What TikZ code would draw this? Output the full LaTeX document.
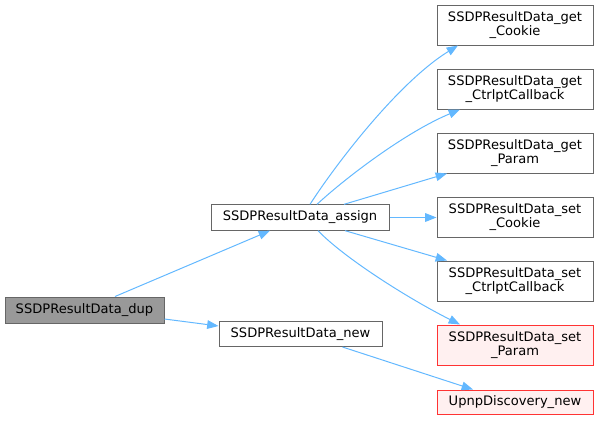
\documentclass[tikz,border=0pt]{standalone}
\usepackage{fontspec}
\setmainfont{DejaVu Sans}
\usetikzlibrary{arrows.meta,calc}
\definecolor{edgeblue}{HTML}{63B8FF}
\definecolor{boxgray}{HTML}{666666}
\definecolor{curfill}{HTML}{999999}
\definecolor{redfill}{HTML}{FFF0F0}
\definecolor{redline}{HTML}{FF3333}
\begin{document}
\begin{tikzpicture}[x=0.75pt,y=-0.75pt,
  fn/.style={draw=boxgray,line width=0.75pt,fill=white,inner sep=0pt,align=center,
    font=\fontsize{9.8}{10.5}\selectfont},
  cur/.style={fn,fill=curfill},
  redbox/.style={fn,draw=redline,fill=redfill},
  col/.style={minimum width=117pt,minimum height=30pt},
  call/.style={draw=edgeblue,line width=0.75pt,-{Triangle[length=8.5pt,width=6.5pt]}}]
\useasboundingbox (0,0) rectangle (599,421);
\node[cur,minimum width=119.25pt,minimum height=19.5pt] (dup) at (84.5,310) {SSDPResultData\_dup};
\node[fn,minimum width=133.5pt,minimum height=19pt] (assign) at (300,217.5) {SSDPResultData\_assign};
\node[fn,minimum width=122.25pt,minimum height=18.75pt] (new) at (300.5,334) {SSDPResultData\_new};
\node[fn,col] (getCookie) at (515,25) {SSDPResultData\_get\\\_Cookie};
\node[fn,col] (getCtrl) at (515,89) {SSDPResultData\_get\\\_CtrlptCallback};
\node[fn,col] (getParam) at (515,153) {SSDPResultData\_get\\\_Param};
\node[fn,col] (setCookie) at (515,217.5) {SSDPResultData\_set\\\_Cookie};
\node[fn,col] (setCtrl) at (515,281) {SSDPResultData\_set\\\_CtrlptCallback};
\node[redbox,col] (setParam) at (515,345) {SSDPResultData\_set\\\_Param};
\node[redbox,minimum width=117pt,minimum height=18pt] (upnp) at (515,402) {UpnpDiscovery\_new};
% edges
\draw[call] ($(dup.north)+(30.5,0)$) -- ($(assign.south)+(-30,0)$);
\draw[call] ($(dup.east)+(0,9)$) -- ($(new.west)+(0,-8)$);
\draw[call] ($(assign.north)+(10,0)$) .. controls +(25,-39) and +(-60,37) .. ($(getCookie.south)+(-57,0)$);
\draw[call] ($(assign.north)+(17,0)$) .. controls +(28,-26) and +(-55,23) .. ($(getCtrl.south)+(-55,0)$);
\draw[call] ($(assign.north)+(44,0)$) -- ($(getParam.south)+(-68,0)$);
\draw[call] (assign.east) -- (setCookie.west);
\draw[call] ($(assign.south)+(45,0)$) -- ($(setCtrl.north)+(-68,0)$);
\draw[call] ($(assign.south)+(18,0)$) .. controls +(27,28) and +(-50,-25) .. ($(setParam.north)+(-55,0)$);
\draw[call] ($(new.south)+(42,0)$) -- ($(upnp.north)+(-42,0)$);
\end{tikzpicture}
\end{document}
